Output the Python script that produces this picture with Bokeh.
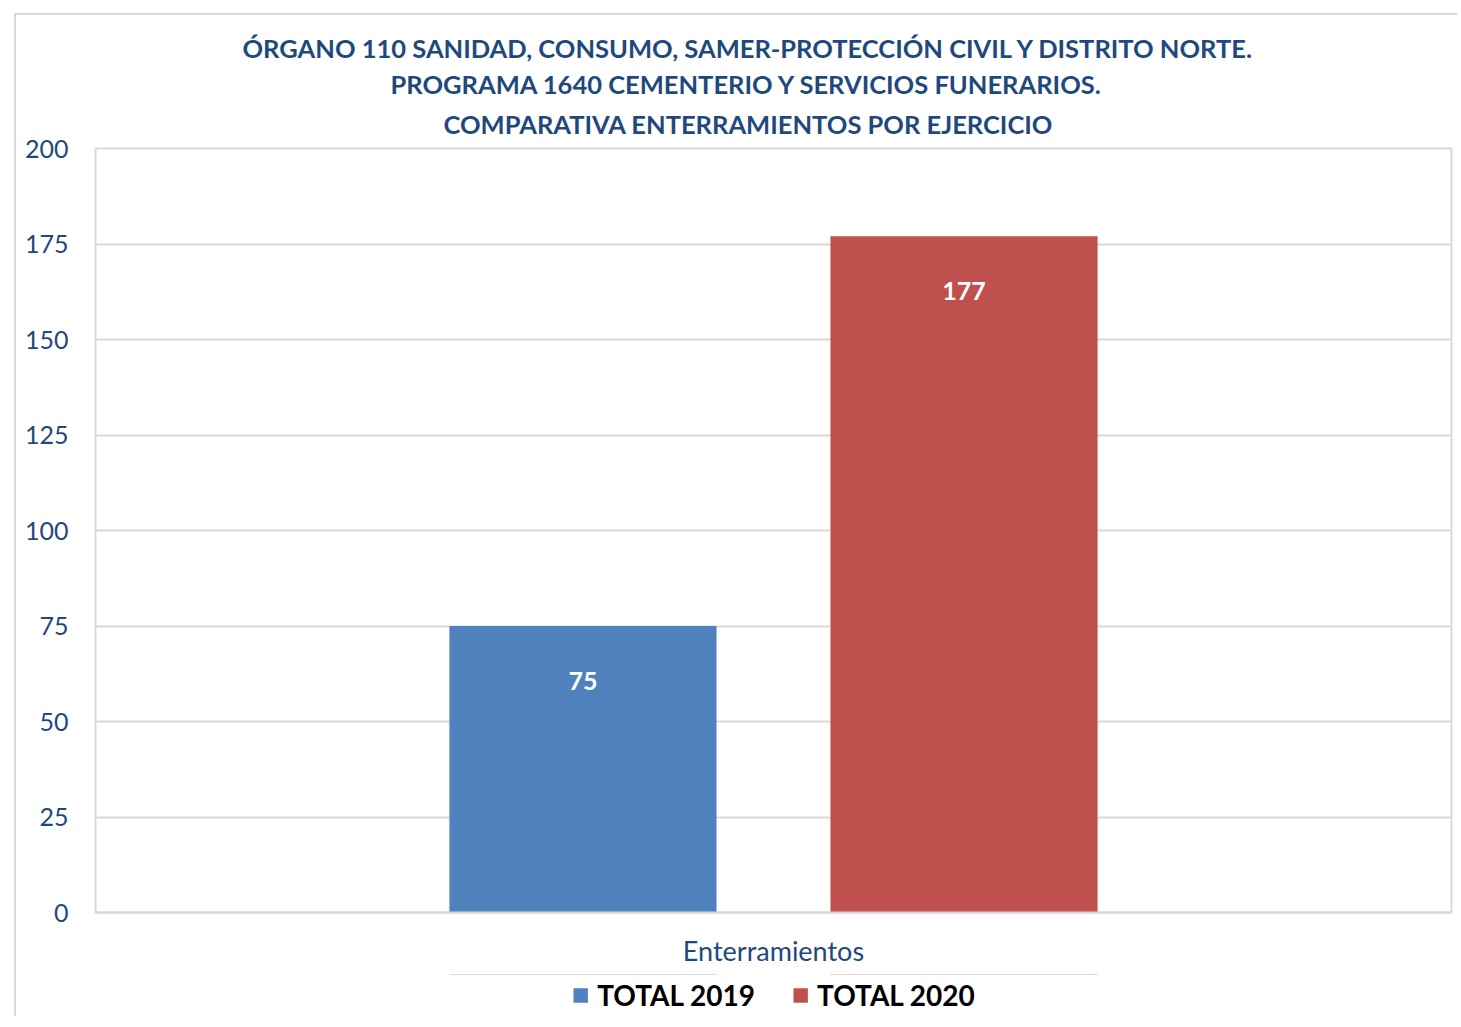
from bokeh.plotting import figure
from bokeh.layouts import column
from bokeh.models import ColumnDataSource, Legend, LegendItem, Title, SingleIntervalTicker, FactorRange, Range1d
from bokeh.transform import dodge
from bokeh.core.properties import value
from bokeh.embed import file_html
from bokeh.resources import INLINE

categories = ["Enterramientos"]
series_names = ["TOTAL 2019", "TOTAL 2020"]
total_2019 = [75]
total_2020 = [177]
colors = ["#4F81BD", "#C0504D"]
title_lines = [
    "ÓRGANO 110 SANIDAD, CONSUMO, SAMER-PROTECCIÓN CIVIL Y DISTRITO NORTE.",
    "PROGRAMA 1640 CEMENTERIO Y SERVICIOS FUNERARIOS.",
    "COMPARATIVA ENTERRAMIENTOS POR EJERCICIO",
]
title_offsets = [147, 295, 348]

FONT = "Lato"
DARK = "#1F497D"
GRID = "#D9D9D9"

FW, FH = 1356, 764
ML, MR, MT, MB = 95, 6, 148, 62
TOTAL_W = ML + FW + MR
LEG_H = 42

src = ColumnDataSource(dict(cat=categories, v2019=total_2019, v2020=total_2020,
                            l2019=[str(v) for v in total_2019],
                            l2020=[str(v) for v in total_2020]))

p = figure(x_range=FactorRange(*categories), y_range=(0, 200),
           width=TOTAL_W, height=MT + FH + MB, output_backend="svg", toolbar_location=None,
           min_border_left=ML, min_border_right=MR, min_border_top=MT, min_border_bottom=MB)

offs = [-0.1405, 0.1405]
r1 = p.vbar(x=dodge("cat", offs[0], range=p.x_range), top="v2019", width=0.197,
            source=src, color=colors[0], line_color=None)
r2 = p.vbar(x=dodge("cat", offs[1], range=p.x_range), top="v2020", width=0.197,
            source=src, color=colors[1], line_color=None)

for xoff, col in zip(offs, ["2019", "2020"]):
    p.text(x=dodge("cat", xoff, range=p.x_range), y="v" + col, text="l" + col, source=src,
           text_color="white", text_font=value(FONT), text_font_style="bold",
           text_font_size="25px", text_align="center", text_baseline="middle",
           y_offset=55)

# titles: closest to the frame added first
for i in [2, 1, 0]:
    t = Title(text=title_lines[i], align="left", offset=title_offsets[i],
              text_font=FONT, text_font_style="bold", text_font_size="25.5px",
              text_color=DARK, standoff=(15 if i == 2 else 4),
              vertical_align=("top" if i == 2 else "middle"))
    p.add_layout(t, "above")

p.outline_line_color = GRID
p.outline_line_width = 2
p.background_fill_color = "white"
p.border_fill_alpha = 0
p.styles = {
    "background": ("linear-gradient(#D9D9D9,#D9D9D9) 14px 13px / 2px 100% no-repeat, "
                   "linear-gradient(#D9D9D9,#D9D9D9) 14px 13px / 100% 2px no-repeat, white"),
}

p.yaxis.ticker = SingleIntervalTicker(interval=25)
p.yaxis.axis_line_color = None
p.yaxis.major_tick_line_color = None
p.yaxis.minor_tick_line_color = None
p.yaxis.major_label_text_font = FONT
p.yaxis.major_label_text_font_size = "25px"
p.yaxis.major_label_text_color = DARK
p.yaxis.major_label_standoff = 21

p.xaxis.axis_line_color = GRID
p.xaxis.axis_line_width = 2
p.xaxis.major_tick_line_color = None
p.xaxis.minor_tick_line_color = None
p.xaxis.major_label_text_font = FONT
p.xaxis.major_label_text_font_size = "27px"
p.xaxis.major_label_text_color = DARK
p.xaxis.major_label_standoff = 15

p.xgrid.grid_line_color = None
p.ygrid.grid_line_color = GRID
p.ygrid.grid_line_width = 2

# legend strip below the chart (same series as zero-height marks outside its visible y-range)
LEG_LEFT = 2 * 735 - TOTAL_W
q = figure(x_range=p.x_range, y_range=Range1d(-20, -10),
           width=TOTAL_W, height=LEG_H, output_backend="svg", toolbar_location=None,
           x_axis_location=None, y_axis_location=None,
           min_border_left=LEG_LEFT, min_border_right=0, min_border_top=0, min_border_bottom=0)
q.xgrid.grid_line_color = None
q.ygrid.grid_line_color = None
q.outline_line_color = None
q.background_fill_alpha = 0
q.border_fill_alpha = 0
q.styles = {"background": "linear-gradient(#D9D9D9,#D9D9D9) 14px 0 / 2px 100% no-repeat, white"}

g1 = q.vbar(x=dodge("cat", offs[0], range=q.x_range), top="v2019", bottom="v2019", width=0.197,
            source=src, color=colors[0], line_color=None)
g2 = q.vbar(x=dodge("cat", offs[1], range=q.x_range), top="v2020", bottom="v2020", width=0.197,
            source=src, color=colors[1], line_color=None)

legend = Legend(items=[LegendItem(label=series_names[0], renderers=[g1]),
                       LegendItem(label=series_names[1], renderers=[g2])],
                orientation="horizontal", location="center",
                label_text_font=FONT, label_text_font_style="bold",
                label_text_font_size="28px", label_text_color="black",
                glyph_width=18, glyph_height=18, spacing=36, label_standoff=8,
                border_line_color=None, background_fill_alpha=0, padding=0, margin=0)
q.add_layout(legend)

layout = column(p, q, spacing=0)
open("out.html", "w").write(file_html(layout, INLINE))
